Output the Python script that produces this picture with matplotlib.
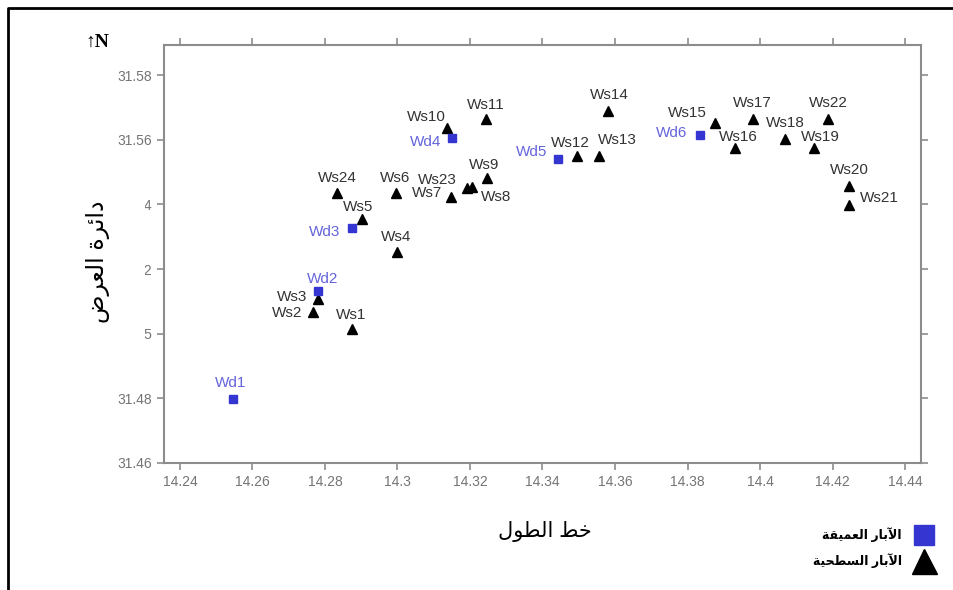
import unicodedata
import matplotlib
matplotlib.use('Agg')
import matplotlib.pyplot as plt
from matplotlib.lines import Line2D
from matplotlib.patches import Rectangle

plt.rcParams['font.family'] = ['Liberation Sans', 'DejaVu Sans']

# deep wells (Wd) and surface wells (Ws): longitude / latitude
wd_names = ['Wd1', 'Wd2', 'Wd3', 'Wd4', 'Wd5', 'Wd6']
wd_lon = [14.2546, 14.2781, 14.2874, 14.3150, 14.3443, 14.3834]
wd_lat = [31.4798, 31.5132, 31.5327, 31.5605, 31.5540, 31.5615]

ws_names = ['Ws1', 'Ws2', 'Ws3', 'Ws4', 'Ws5', 'Ws6', 'Ws7', 'Ws8', 'Ws9', 'Ws10',
            'Ws11', 'Ws12', 'Ws13', 'Ws14', 'Ws15', 'Ws16', 'Ws17', 'Ws18', 'Ws19',
            'Ws20', 'Ws21', 'Ws22', 'Ws23', 'Ws24']
ws_lon = [14.2874, 14.2767, 14.2781, 14.2999, 14.2902, 14.2996, 14.3148, 14.3206,
          14.3247, 14.3137, 14.3244, 14.3495, 14.3556, 14.3581, 14.3876, 14.3931,
          14.3981, 14.4069, 14.4149, 14.4246, 14.4246, 14.4188, 14.3192, 14.2833]
ws_lat = [31.5014, 31.5067, 31.5107, 31.5253, 31.5355, 31.5435, 31.5423, 31.5454,
          31.5482, 31.5636, 31.5664, 31.5550, 31.5550, 31.5689, 31.5652, 31.5574,
          31.5664, 31.5602, 31.5574, 31.5457, 31.5398, 31.5664, 31.5451, 31.5435]

x_ticks = [14.24, 14.26, 14.28, 14.30, 14.32, 14.34, 14.36, 14.38, 14.40, 14.42, 14.44]
x_tick_labels = ['14.24', '14.26', '14.28', '14.3', '14.32', '14.34', '14.36',
                 '14.38', '14.4', '14.42', '14.44']
y_ticks = [31.46, 31.48, 31.50, 31.52, 31.54, 31.56, 31.58]
y_tick_labels = ['31.46', '31.48', '31.5', '31.52', '31.54', '31.56', '31.58']

x_title = 'خط الطول'
y_title = 'دائرة العرض'
legend_labels = ['الآبار العميقة', 'الآبار السطحية']

# label offsets in pixels (dx, dy) from each marker
wd_off = [(-2, 16), (5, 12), (-27, -4), (-26, -4), (-26, 7), (-28, 2)]
ws_off = [(-1, 14), (-26, -1), (-26, 2), (-1, 15), (-4, 12), (-1, 15), (-24, 4),
          (24, -10), (-3, 13), (-21, 11), (0, 14), (-7, 13), (18, 16), (1, 16),
          (-28, 10), (3, 11), (-1, 16), (0, 16), (6, 11), (0, 16), (30, 7),
          (0, 16), (-30, 8), (0, 15)]

# matplotlib does not join arabic letters, so map them to presentation forms
FORMS = {
    '\u0622': (0xFE81, 0xFE82, None, None),
    '\u0626': (0xFE89, 0xFE8A, 0xFE8B, 0xFE8C),
    '\u0627': (0xFE8D, 0xFE8E, None, None),
    '\u0628': (0xFE8F, 0xFE90, 0xFE91, 0xFE92),
    '\u0629': (0xFE93, 0xFE94, None, None),
    '\u062D': (0xFEA1, 0xFEA2, 0xFEA3, 0xFEA4),
    '\u062E': (0xFEA5, 0xFEA6, 0xFEA7, 0xFEA8),
    '\u062F': (0xFEA9, 0xFEAA, None, None),
    '\u0631': (0xFEAD, 0xFEAE, None, None),
    '\u0633': (0xFEB1, 0xFEB2, 0xFEB3, 0xFEB4),
    '\u0636': (0xFEBD, 0xFEBE, 0xFEBF, 0xFEC0),
    '\u0637': (0xFEC1, 0xFEC2, 0xFEC3, 0xFEC4),
    '\u0639': (0xFEC9, 0xFECA, 0xFECB, 0xFECC),
    '\u0642': (0xFED5, 0xFED6, 0xFED7, 0xFED8),
    '\u0644': (0xFEDD, 0xFEDE, 0xFEDF, 0xFEE0),
    '\u0645': (0xFEE1, 0xFEE2, 0xFEE3, 0xFEE4),
    '\u0648': (0xFEED, 0xFEEE, None, None),
    '\u064A': (0xFEF1, 0xFEF2, 0xFEF3, 0xFEF4),
}
LAM_ALEF = {'\u0627': (0xFEFB, 0xFEFC), '\u0622': (0xFEF5, 0xFEF6)}


def ar(text):
    chars = unicodedata.normalize('NFC', text)
    res = []
    i = 0
    while i < len(chars):
        c = chars[i]
        if c not in FORMS:
            res.append(c)
            i += 1
            continue
        prev = chars[i - 1] if i > 0 else ''
        joins_prev = prev in FORMS and FORMS[prev][2] is not None
        if c == '\u0644' and i + 1 < len(chars) and chars[i + 1] in LAM_ALEF:
            iso, fin = LAM_ALEF[chars[i + 1]]
            res.append(chr(fin if joins_prev else iso))
            i += 2
            continue
        nxt = chars[i + 1] if i + 1 < len(chars) else ''
        iso, fin, ini, med = FORMS[c]
        joins_next = ini is not None and nxt in FORMS
        if joins_prev and joins_next:
            g = med
        elif joins_prev:
            g = fin
        elif joins_next:
            g = ini
        else:
            g = iso
        res.append(chr(g))
        i += 1
    return ''.join(reversed(res))


W, H = 954, 590
fig = plt.figure(figsize=(W / 100, H / 100), dpi=100)
ax = fig.add_axes([164 / W, 1 - 463 / H, (921 - 164) / W, (463 - 45) / H])

ax.plot(ws_lon, ws_lat, '^', color='black', ms=7.5, ls='none', zorder=3)
ax.plot(wd_lon, wd_lat, 's', color='#3535d2', ms=6, ls='none', zorder=3)

for n, x, y, (dx, dy) in zip(ws_names, ws_lon, ws_lat, ws_off):
    ax.annotate(n, (x, y), xytext=(dx, dy), textcoords='offset pixels',
                ha='center', va='center', fontsize=11, color='#333333')
for n, x, y, (dx, dy) in zip(wd_names, wd_lon, wd_lat, wd_off):
    ax.annotate(n, (x, y), xytext=(dx, dy), textcoords='offset pixels',
                ha='center', va='center', fontsize=11, color='#6464dc')

ax.set_xlim(14.2356, 14.4444)
ax.set_ylim(31.46, 31.5893)
ax.set_xticks(x_ticks, x_tick_labels)
ax.set_yticks(y_ticks, y_tick_labels)
ax.tick_params(direction='out', length=5, width=1.2, color='#8c8c8c',
               top=True, right=True, labelsize=10, labelcolor='#747474')
for s in ax.spines.values():
    s.set_color('#8c8c8c')
    s.set_linewidth(1.5)

# white box behind the y title hides part of the tick labels, as in the source
fig.add_artist(Rectangle((80 / W, 1 - 345 / H), 65 / W, 155 / H,
                         transform=fig.transFigure, facecolor='white',
                         edgecolor='none', zorder=2))
fig.text(98 / W, 1 - 262 / H, ar(y_title), rotation=90, ha='center', va='center',
         fontsize=17, zorder=3)
fig.text(545 / W, 1 - 532 / H, ar(x_title), ha='center', va='center', fontsize=15)
fig.text(97 / W, 1 - 42 / H, '↑N', ha='center', va='center', fontsize=14,
         family=['Liberation Serif', 'DejaVu Serif'], weight='bold')

# outer frame (left and top edges)
fig.add_artist(Line2D([8 / W, 8 / W, 1], [0, 1 - 8 / H, 1 - 8 / H],
                      transform=fig.transFigure, color='black', lw=2))

handles = [Line2D([], [], marker='s', color='#3535d2', ms=14, ls='none'),
           Line2D([], [], marker='^', color='black', ms=18, ls='none')]
fig.legend(handles, [ar(t) for t in legend_labels], loc='center right',
           bbox_to_anchor=(948 / W, 1 - 548 / H), frameon=False, markerfirst=False,
           prop={'size': 9, 'weight': 'bold'}, handletextpad=0.8, labelspacing=0.9)

fig.savefig('out.png', dpi=100)
